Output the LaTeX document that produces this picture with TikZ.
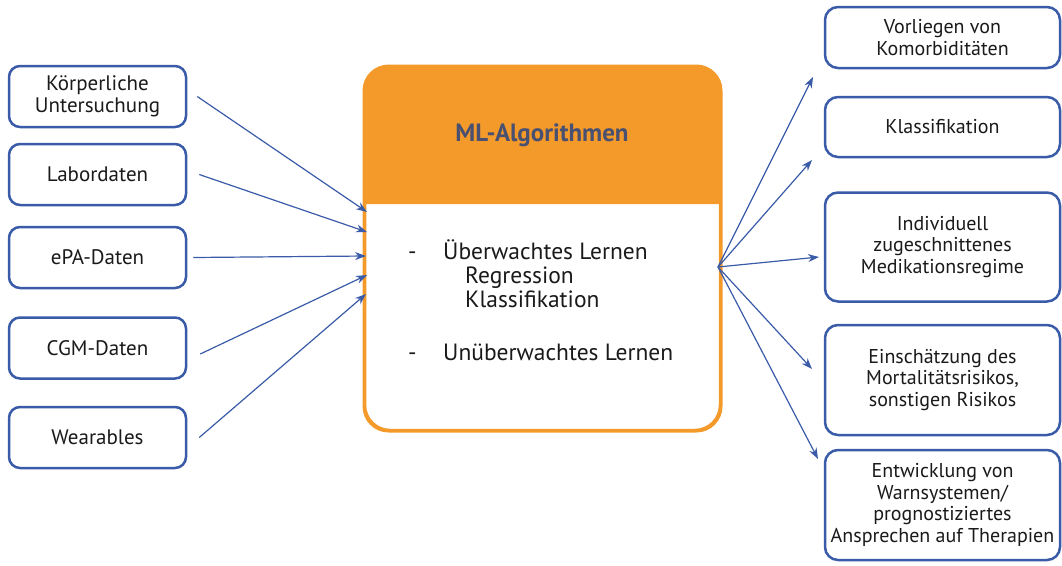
\documentclass[tikz,border=0pt]{standalone}
\usepackage{fontspec}
\setmainfont{PT Sans}
\usetikzlibrary{arrows.meta}
\definecolor{bluec}{HTML}{3A5BA8}
\definecolor{orangec}{HTML}{F39A2B}
\definecolor{titlec}{HTML}{4A5070}
\definecolor{textc}{HTML}{1A1A1A}
\tikzset{
  inbox/.style={draw=bluec, line width=2.5pt, rounded corners=11pt, fill=white,
    minimum width=177pt, minimum height=61pt, align=center, text=textc,
    font=\fontsize{21}{21.5}\selectfont, inner sep=0pt},
  outbox/.style={draw=bluec, line width=2.5pt, rounded corners=13pt, fill=white,
    minimum width=235pt, align=center, text=textc,
    font=\fontsize{20}{21.5}\selectfont, inner sep=0pt},
  conn/.style={draw=bluec, line width=1.2pt, -{Stealth[length=11pt,width=8pt]}},
  listtxt/.style={anchor=base west, text=textc, font=\fontsize{23.5}{24}\selectfont, inner sep=0pt},
}
\begin{document}
\begin{tikzpicture}[x=1pt,y=-1pt]
\useasboundingbox (0,0) rectangle (1062,565);
% left boxes
\node[inbox] (l1) at (97.5,96.5) {Körperliche\\Untersuchung};
\node[inbox] (l2) at (97.5,174.5) {Labordaten};
\node[inbox] (l3) at (97.5,257.5) {ePA-Daten};
\node[inbox] (l4) at (97.5,348) {CGM-Daten};
\node[inbox] (l5) at (97.5,437.5) {Wearables};
% center box
\node[draw=orangec, line width=2.5pt, rounded corners=25pt, fill=white,
  minimum width=355pt, minimum height=363pt, inner sep=0pt] (ml) at (542.5,248.5) {};
\fill[orangec] (ml.west |- 0,204) [rounded corners=25pt] -- (ml.north west) -- (ml.north east) [sharp corners] -- (ml.east |- 0,204) -- cycle;
\draw[orangec, line width=2.5pt, rounded corners=25pt] (ml.south west) rectangle (ml.north east);
\node[font=\fontsize{25}{26}\selectfont\bfseries, text=titlec] (title) at (542,135) {ML-Algorithmen};
\node[listtxt] (d1) at (408,259) {-};
\node[listtxt] (t1) at (443,259) {Überwachtes Lernen};
\node[listtxt] (t2) at (465,283) {Regression};
\node[listtxt] (t3) at (465,307) {Klassifikation};
\node[listtxt] (d2) at (408,360) {-};
\node[listtxt] (t4) at (443,360) {Unüberwachtes Lernen};
% right boxes
\node[outbox, minimum height=61pt] (r1) at (942.5,37.5) {Vorliegen von\\Komorbiditäten};
\node[outbox, minimum height=60pt] (r2) at (942.5,127) {Klassifikation};
\node[outbox, minimum height=109pt] (r3) at (942.5,247) {Individuell\\zugeschnittenes\\Medikationsregime};
\node[outbox, minimum height=110pt] (r4) at (942.5,380) {Einschätzung des\\Mortalitätsrisikos,\\sonstigen Risikos};
\node[outbox, minimum height=110pt] (r5) at (942.5,505) {Entwicklung von\\Warnsystemen/\\prognostiziertes\\Ansprechen auf Therapien};
% input points
\coordinate (i1) at (367,212);
\coordinate (i2) at (367,232);
\coordinate (i3) at (366,256);
\coordinate (i4) at (367,275);
\coordinate (i5) at (366,294);
\draw[conn] ([xshift=10pt]l1.east) -- (i1);
\draw[conn] ([xshift=12pt]l2.east) -- (i2);
\draw[conn] ([xshift=6pt]l3.east) -- (i3);
\draw[conn] ([xshift=13pt,yshift=-6pt]l4.east) -- (i4);
\draw[conn] ([xshift=12pt]l5.east) -- (i5);
% outputs
\coordinate (hub) at (718,267);
\coordinate (o1) at (813,77);
\coordinate (o2) at (812,160);
\coordinate (o3) at (819,257);
\coordinate (o4) at (812,369);
\coordinate (o5) at (818,459);
\draw[conn] (hub) -- (o1);
\draw[conn] (hub) -- (o2);
\draw[conn] (hub) -- (o3);
\draw[conn] (hub) -- (o4);
\draw[conn] (hub) -- (o5);
\end{tikzpicture}
\end{document}
